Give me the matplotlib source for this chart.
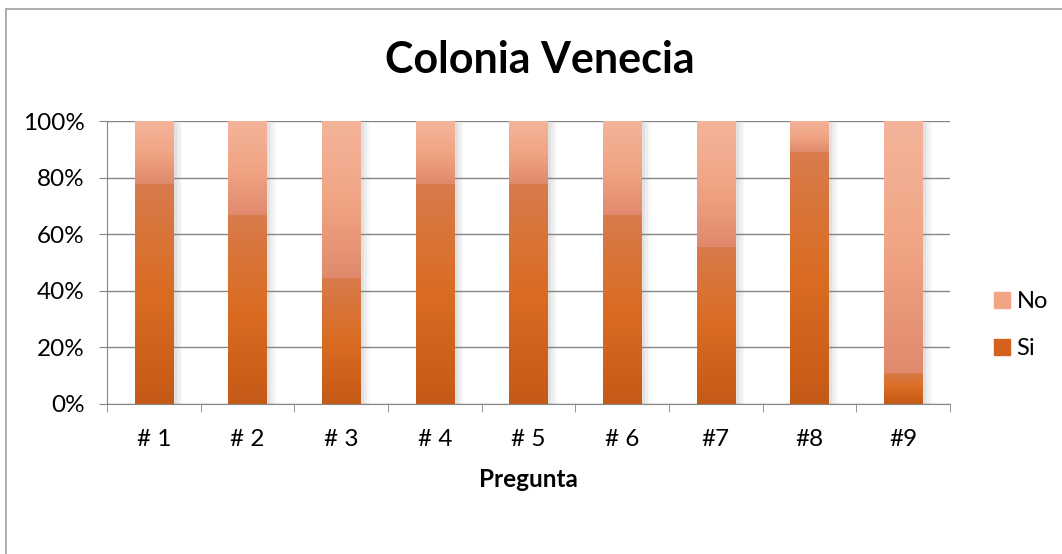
import numpy as np
import matplotlib
matplotlib.use('Agg')
import matplotlib.pyplot as plt
from matplotlib.colors import LinearSegmentedColormap
from matplotlib.patches import Rectangle
from matplotlib.ticker import FixedLocator, PercentFormatter

plt.rcParams['font.family'] = ['Lato', 'DejaVu Sans']

# data (answers out of 9 per question)
preguntas = ['# 1', '# 2', '# 3', '# 4', '# 5', '# 6', '#7', '#8', '#9']
si = [7, 6, 4, 7, 7, 6, 5, 8, 1]
no = [2, 3, 5, 2, 2, 3, 4, 1, 8]

si_cmap = LinearSegmentedColormap.from_list('si', ['#C55A17', '#DA6C22', '#D87B4C'])
no_cmap = LinearSegmentedColormap.from_list('no', ['#E08A6C', '#F1A585', '#F4B49A'])

fig = plt.figure(figsize=(10.62, 5.54), dpi=100)
ax = fig.add_axes([107 / 1062, 1 - 404 / 554, (950 - 107) / 1062, (404 - 121) / 554])

total = np.array(si) + np.array(no)
si_pct = np.array(si) / total * 100
no_pct = np.array(no) / total * 100
x = np.arange(len(preguntas))
w = 0.41
grad = np.linspace(0, 1, 256).reshape(-1, 1)


def seg(xc, y0, h, cmap):
    # soft shadow on the right
    for k, a in zip([0.09, 0.06, 0.03], [0.06, 0.08, 0.1]):
        ax.add_patch(Rectangle((xc - w / 2 + 0.01, y0 - 0.6), w + k, h, color='#7f7f7f',
                               alpha=a, lw=0, zorder=2))
    ax.imshow(grad, cmap=cmap, origin='lower', aspect='auto', zorder=3,
              extent=(xc - w / 2, xc + w / 2, y0, y0 + h))


for i in x:
    seg(i, 0, si_pct[i], si_cmap)
    seg(i, si_pct[i], no_pct[i], no_cmap)

ax.set_xlim(-0.5, len(preguntas) - 0.5)
ax.set_ylim(0, 100)
ax.set_aspect('auto')
ax.set_yticks(np.arange(0, 101, 20))
ax.yaxis.set_major_formatter(PercentFormatter(decimals=0))
ax.set_xticks(x)
ax.set_xticklabels(preguntas)
ax.xaxis.set_minor_locator(FixedLocator(np.arange(-0.5, len(preguntas), 1)))
ax.tick_params(axis='x', which='major', length=0, labelsize=17.5, pad=18)
ax.tick_params(axis='x', which='minor', length=6, color='#868686')
ax.tick_params(axis='y', length=6, color='#868686', labelsize=17.5, pad=10)
ax.grid(axis='y', color='#868686', lw=1, zorder=0)
ax.set_axisbelow(True)
for s in ['top', 'right']:
    ax.spines[s].set_visible(False)
for s in ['left', 'bottom']:
    ax.spines[s].set_color('#868686')
    ax.spines[s].set_zorder(4)

ax.set_xlabel('Pregunta', fontsize=17.5, fontweight='bold', labelpad=13)
fig.text(540 / 1062, 1 - 60 / 554, 'Colonia Venecia', ha='center', va='center',
         fontsize=31, fontweight='bold')

# legend
h_no = Rectangle((0, 0), 1, 1, color='#F1A585')
h_si = Rectangle((0, 0), 1, 1, color='#D2621E')
fig.legend([h_no, h_si], ['No', 'Si'], loc='center left', bbox_to_anchor=(973 / 1062, 1 - 325 / 554),
           frameon=False, fontsize=17, handlelength=0.65, handleheight=0.65,
           handletextpad=0.3, labelspacing=1.1)

# chart border
fig.add_artist(Rectangle((6 / 1062, -0.1), 1.2, 1 - 9 / 554 + 0.1, fill=False,
                         edgecolor='#A0A0A0', lw=1.2, transform=fig.transFigure))

fig.savefig('out.png', dpi=100)
